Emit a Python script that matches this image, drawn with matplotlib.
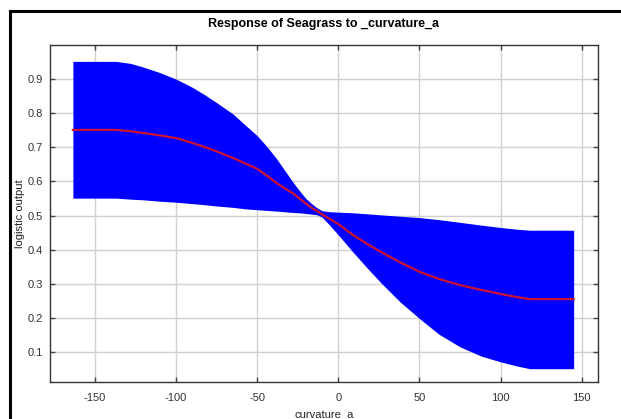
import matplotlib
matplotlib.use("Agg")
import matplotlib.pyplot as plt
from matplotlib.patches import Rectangle

plt.rcParams['font.family'] = ['Liberation Sans', 'DejaVu Sans']

# Response curve
curv = [-163.6, -137, -128, -120, -110, -100, -90, -83, -75, -65, -58, -50,
        -44, -38, -33, -28, -24, -20, -16, -13, -10, -5, 0, 9, 18, 26, 38,
        50, 62, 75, 88, 100, 110, 118, 145]
upper = [0.952, 0.952, 0.946, 0.935, 0.919, 0.900, 0.876, 0.856, 0.831, 0.798,
         0.768, 0.734, 0.702, 0.666, 0.632, 0.598, 0.573, 0.550, 0.533, 0.522,
         0.514, 0.511, 0.510, 0.508, 0.505, 0.502, 0.498, 0.494, 0.488, 0.480,
         0.472, 0.465, 0.460, 0.457, 0.457]
lower = [0.551, 0.551, 0.548, 0.546, 0.542, 0.539, 0.535, 0.532, 0.528, 0.524,
         0.520, 0.517, 0.515, 0.513, 0.511, 0.509, 0.508, 0.506, 0.504, 0.502,
         0.495, 0.470, 0.443, 0.393, 0.345, 0.304, 0.247, 0.198, 0.152, 0.115,
         0.088, 0.071, 0.059, 0.051, 0.051]
mean = [0.751, 0.751, 0.747, 0.742, 0.735, 0.727, 0.713, 0.702, 0.688, 0.669,
        0.654, 0.637, 0.617, 0.595, 0.580, 0.565, 0.550, 0.535, 0.521, 0.513,
        0.503, 0.489, 0.475, 0.443, 0.416, 0.394, 0.363, 0.335, 0.314, 0.296,
        0.282, 0.270, 0.261, 0.255, 0.255]

xticks = [-150, -100, -50, 0, 50, 100, 150]
yticks = [0.1, 0.2, 0.3, 0.4, 0.5, 0.6, 0.7, 0.8, 0.9]

fig = plt.figure(figsize=(6.21, 4.19), dpi=100)
ax = fig.add_axes([50 / 621, 37 / 419, 548 / 621, 337 / 419])

ax.fill_between(curv, lower, upper, color='#0000ff', linewidth=0, zorder=2)
ax.plot(curv, mean, color='#cc1133', linewidth=1.6, zorder=3)

ax.set_xlim(-177.7, 160)
ax.set_ylim(0.012, 1.0)
ax.set_xticks(xticks)
ax.set_yticks(yticks)
ax.set_xticklabels([str(t) for t in xticks])
ax.set_yticklabels([f"{t:.1f}" for t in yticks])
ax.grid(True, color='#d0d0d0', linewidth=1.0, zorder=0)
ax.set_axisbelow(True)
ax.tick_params(direction='in', length=3.5, width=1, color='#444444',
               labelcolor='#333333', labelsize=8, top=True, right=True)
ax.tick_params(axis='x', pad=8)
ax.tick_params(axis='y', pad=5)
for s in ax.spines.values():
    s.set_color('#333333')
    s.set_linewidth(1)

ax.set_title('Response of Seagrass to _curvature_a', fontsize=9,
             fontweight='bold', pad=13)
ax.set_xlabel('curvature_a', fontsize=8, color='#222222', labelpad=5)
ax.set_ylabel('logistic output', fontsize=8, color='#222222', labelpad=2)

# black frame left/top, as in the reference screenshot
fig.add_artist(Rectangle((9.5 / 621, -0.2), 2.0, (419 - 10.5) / 419 + 0.2,
                         transform=fig.transFigure, fill=False,
                         edgecolor='black', linewidth=2.2, clip_on=False))

fig.savefig('out.png', dpi=100)
